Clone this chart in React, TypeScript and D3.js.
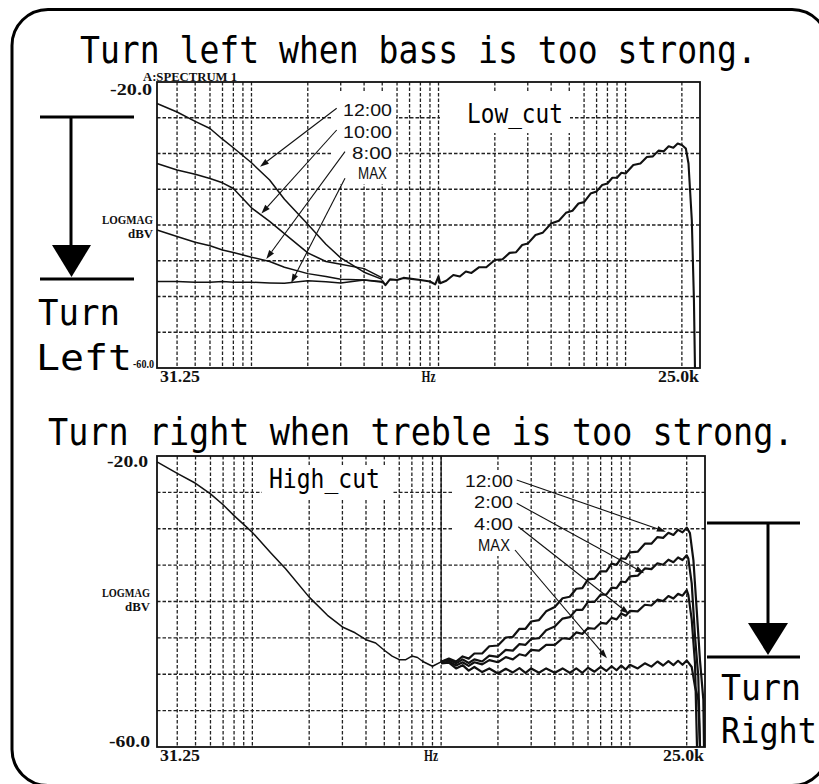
import React from 'react';
import * as d3 from 'd3';

const W = 819;
const H = 784;

// ---------- grid ----------
const gridFreqs = [40, 50, 60, 70, 80, 90, 100, 200, 300, 400, 500, 600, 700, 800, 900, 1000, 2000, 3000, 4000, 5000, 6000, 7000, 8000, 9000, 10000, 20000];
const gridDb = [-25, -30, -35, -40, -45, -50, -55];
const freqMin = 31.25;
const freqMax = 25000;
const dbMin = -60;
const dbMax = -20;

// ---------- top chart (Low_cut) ----------
const lowFreqs = [31.25, 40, 50, 60, 70, 80, 100, 125, 150, 200, 250, 300, 400, 500];
const low1200 = [-23.0, -24.2, -25.5, -26.5, -28.0, -29.2, -31.3, -33.7, -36.4, -39.9, -42.7, -44.6, -46.6, -47.6];
const low1000 = [-31.4, -32.3, -32.9, -33.5, -34.1, -34.9, -37.6, -39.5, -41.2, -43.9, -45.1, -45.5, -46.1, -47.4];
const low0800 = [-40.7, -41.6, -42.4, -42.9, -43.5, -43.85, -44.5, -45.1, -45.9, -46.8, -47.2, -47.6, -47.7, -47.9];
const lowMAX = [-47.9, -47.9, -48.0, -48.0, -47.9, -48.0, -48.0, -48.1, -48.15, -47.8, -47.95, -48.1, -47.7, -48.0];

const topCommonFreqs = [500, 520, 550, 600, 650, 700, 800, 900, 960, 1000, 1020, 1100, 1200, 1300, 1400, 1500, 1650, 1800, 2000, 2200, 2400, 2600, 2800, 3000, 3300, 3600, 4000, 4400, 4800, 5200, 5600, 6000, 6500, 7000, 7500, 8000, 8500, 9000, 9500, 10000, 11000, 12000, 13000, 14000, 15000, 16000, 17000, 18000, 19000, 20000, 21000, 21700, 22600, 23200, 23500];
const topCommonDb = [-47.8, -48.4, -47.6, -47.7, -47.4, -47.5, -47.7, -47.9, -48.3, -47.2, -48.15, -47.8, -47.0, -47.2, -46.5, -46.7, -45.9, -45.9, -44.9, -44.8, -43.9, -43.8, -42.8, -42.6, -41.4, -41.1, -39.8, -39.4, -38.3, -38.0, -37.0, -36.8, -35.6, -35.3, -34.4, -34.2, -33.4, -33.4, -32.7, -32.8, -31.6, -31.4, -30.5, -30.4, -29.6, -29.7, -29.0, -29.2, -28.6, -28.8, -29.3, -31.4, -39.3, -50.5, -60];

const topLabels = ['12:00', '10:00', '8:00', 'MAX'];
const topTipFreq = [111, 113, 120, 163];
const topTipDb = [-31.85, -38.4, -44.75, -48.1];

// ---------- bottom chart (High_cut) ----------
const hcFreqs = [31.25, 40, 50, 60, 70, 80, 100, 125, 150, 200, 250, 300, 350, 400, 450, 500, 550, 600, 650, 700, 750, 800, 900, 1000];
const hcDb = [-20.8, -22.4, -23.75, -25.2, -26.7, -28.2, -30.5, -33.3, -35.5, -39.4, -41.9, -43.5, -44.3, -45.25, -45.7, -46.7, -47.5, -48.0, -48.0, -47.5, -47.7, -48.25, -48.9, -48.3];

const bodyFreqs = [1000, 1100, 1200, 1300, 1400, 1500, 1650, 1800, 2000, 2200, 2400, 2600, 2800, 3000, 3300, 3600, 4000, 4400, 4800, 5200, 5600, 6000, 6500, 7000, 7500, 8000, 8500, 9000, 9500, 10000, 11000, 12000, 13000, 14000, 15000, 16000, 17000, 18000, 19000, 20000];
const hi1200 = [-48.3, -47.85, -48.25, -47.55, -47.85, -47.15, -47.15, -46.15, -46.05, -44.95, -44.85, -43.75, -43.75, -42.75, -42.55, -41.35, -40.75, -39.55, -39.35, -38.25, -38.15, -36.95, -36.85, -35.85, -35.85, -34.8, -34.95, -34.05, -34.15, -33.25, -33.15, -32.05, -32.05, -31.15, -31.25, -30.55, -30.85, -30.15, -30.5, -29.85];
const hi0200 = [-48.25, -48.0, -48.5, -47.95, -48.45, -47.95, -48.25, -47.45, -47.6, -46.65, -46.75, -45.85, -45.95, -45.15, -45.05, -43.95, -43.45, -42.35, -42.15, -41.15, -41.15, -40.05, -40.05, -39.05, -39.05, -38.1, -38.15, -37.25, -37.35, -36.55, -36.45, -35.45, -35.55, -34.75, -34.95, -34.25, -34.6, -33.95, -34.3, -33.65];
const hi0400 = [-48.45, -48.25, -48.8, -48.35, -48.85, -48.35, -48.65, -48.05, -48.35, -47.65, -47.95, -47.25, -47.45, -46.65, -46.75, -45.95, -45.95, -45.05, -45.15, -44.25, -44.45, -43.65, -43.75, -42.95, -43.05, -42.25, -42.45, -41.65, -41.95, -41.3, -41.35, -40.45, -40.55, -39.75, -39.95, -39.25, -39.6, -38.95, -39.2, -38.45];
const hiMAX = [-48.5, -48.4, -49.2, -48.75, -49.5, -49.0, -49.7, -49.2, -49.9, -49.25, -49.75, -49.15, -49.8, -49.2, -49.8, -49.2, -49.8, -49.2, -49.8, -49.2, -49.8, -49.1, -49.65, -49.0, -49.55, -48.9, -49.45, -48.8, -49.35, -48.7, -49.2, -48.5, -48.95, -48.25, -48.8, -48.2, -48.75, -48.15, -48.7, -48.1];

const tail1200Freqs = [20800, 21700, 22600, 23500, 24500, 24700];
const tail1200Db = [-30.6, -34.3, -41.2, -48.0, -53.5, -60];
const tail0200Freqs = [20400, 21260, 22130, 23030, 23520];
const tail0200Db = [-34.1, -37.5, -44.8, -50.3, -60];
const tail0400Freqs = [20400, 21260, 22130, 22680];
const tail0400Db = [-39.1, -42.5, -48.5, -60];
const tailMAXFreqs = [21260, 22130, 23030, 23520];
const tailMAXDb = [-49.0, -51.7, -53.5, -60];

const botLabels = ['12:00', '2:00', '4:00', 'MAX'];
const botTipFreq = [15500, 11900, 9900, 7560];
const botTipDb = [-30.4, -36.1, -41.7, -47.8];
const markerFreq = 1000;
const markerDb = -48.3;

type Pt = [number, number];
const zip = (f: number[], v: number[]): Pt[] => f.map((d, i) => [d, v[i]] as Pt);

function makeScales(x0: number, x1: number, y0: number, y1: number) {
  const x = d3.scaleLog().domain([freqMin, freqMax]).range([x0, x1]);
  const y = d3.scaleLinear().domain([dbMin, dbMax]).range([y1, y0]);
  return { x, y };
}

const MONO = '"DejaVu Sans Mono", monospace';
const SERIF = '"Liberation Serif", serif';
const SANS = '"Liberation Sans", Arial, sans-serif';

// monospace text squeezed horizontally to a target width (DejaVu Sans Mono advance = 0.602em)
function MonoText({ x, y, fs, width, children }: { x: number; y: number; fs: number; width: number; children: string }) {
  const natural = children.length * 0.602 * fs;
  const sx = width / natural;
  return (
    <text transform={`translate(${x},${y}) scale(${sx},1)`} fontFamily={MONO} fontSize={fs} fill="#000">
      {children}
    </text>
  );
}

function Grid({ x, y }: { x: any; y: any }) {
  const [x0, x1] = x.range();
  const [y1, y0] = y.range();
  return (
    <g stroke="#222" strokeWidth={1.3} strokeDasharray="3.5,2">
      {gridFreqs.map((f) => (
        <line key={'v' + f} x1={x(f)} x2={x(f)} y1={y0} y2={y1} />
      ))}
      {gridDb.map((d) => (
        <line key={'h' + d} x1={x0} x2={x1} y1={y(d)} y2={y(d)} />
      ))}
    </g>
  );
}

function Arrow({ sx, sy, tx, ty }: { sx: number; sy: number; tx: number; ty: number }) {
  const a = Math.atan2(ty - sy, tx - sx);
  const L = 9;
  const w = 3;
  const bx = tx - L * Math.cos(a);
  const by = ty - L * Math.sin(a);
  const p1 = [bx + w * Math.sin(a), by - w * Math.cos(a)];
  const p2 = [bx - w * Math.sin(a), by + w * Math.cos(a)];
  return (
    <g>
      <line x1={sx} y1={sy} x2={bx} y2={by} stroke="#111" strokeWidth={1.1} />
      <polygon points={`${tx},${ty} ${p1[0]},${p1[1]} ${p2[0]},${p2[1]}`} fill="#111" />
    </g>
  );
}

function TickLabels({ x, y, top }: { x: any; y: any; top: boolean }) {
  const [x0, x1] = x.range();
  const [y1, y0] = y.range();
  const fs = 16;
  const st = { fontFamily: SERIF, fontWeight: 700 as const, fill: '#111' };
  const la = 'spacingAndGlyphs';
  return (
    <g style={st}>
      {top ? (
        <>
          <text x={143} y={y0 - 1} fontSize={12} textLength={94} lengthAdjust={la}>A:SPECTRUM 1</text>
          <text x={x0 - 47} y={y0 + 13} fontSize={fs} textLength={42} lengthAdjust={la}>-20.0</text>
          <text x={x0 - 55} y={224} fontSize={12.2} textLength={51} lengthAdjust={la}>LOGMAG</text>
          <text x={x0 - 29} y={237.8} fontSize={12.2} textLength={25} lengthAdjust={la}>dBV</text>
          <text x={x0 - 24} y={y1} fontSize={12} textLength={21} lengthAdjust={la}>-60.0</text>
        </>
      ) : (
        <>
          <text x={x0 - 50} y={y0 + 11} fontSize={fs} textLength={41} lengthAdjust={la}>-20.0</text>
          <text x={x0 - 55} y={597} fontSize={12.2} textLength={48} lengthAdjust={la}>LOGMAG</text>
          <text x={x0 - 32} y={610.8} fontSize={12.2} textLength={25} lengthAdjust={la}>dBV</text>
          <text x={x0 - 48} y={y1} fontSize={fs} textLength={41} lengthAdjust={la}>-60.0</text>
        </>
      )}
      <text x={x0 + 3} y={y1 + 14} fontSize={fs} textLength={40} lengthAdjust={la}>31.25</text>
      <text x={(x0 + x1) / 2 - 7} y={y1 + 14} fontSize={fs} textLength={14} lengthAdjust={la}>Hz</text>
      <text x={x1 - 42} y={y1 + 14} fontSize={fs} textLength={41} lengthAdjust={la}>25.0k</text>
    </g>
  );
}

export default function App() {
  const T = makeScales(157, 700, 82, 368);
  const B = makeScales(157, 705, 456, 747);

  const lineT = d3.line<Pt>().x((d) => T.x(d[0])).y((d) => T.y(d[1]));
  const lineB = d3.line<Pt>().x((d) => B.x(d[0])).y((d) => B.y(d[1]));

  const topLow = [low1200, low1000, low0800, lowMAX].map((v) => zip(lowFreqs, v));
  const topCommon = zip(topCommonFreqs, topCommonDb);

  const hc = zip(hcFreqs, hcDb);
  const bot = [
    zip(bodyFreqs, hi1200).concat(zip(tail1200Freqs, tail1200Db)),
    zip(bodyFreqs, hi0200).concat(zip(tail0200Freqs, tail0200Db)),
    zip(bodyFreqs, hi0400).concat(zip(tail0400Freqs, tail0400Db)),
    zip(bodyFreqs, hiMAX).concat(zip(tailMAXFreqs, tailMAXDb)),
  ];

  const topStarts: Pt[] = [[336.7, 108.3], [336.7, 130], [345, 151.7], [345, 178.3]];
  const topLabelPos = [{ x: 343, y: 115.7, w: 49 }, { x: 343, y: 137.7, w: 49 }, { x: 352, y: 159, w: 40 }, { x: 358, y: 179, w: 29 }];
  const botStarts: Pt[] = [[516.7, 480], [516.7, 503.3], [518.3, 526.7], [515, 550]];
  const botLabelPos = [{ x: 465, y: 486.7, w: 48 }, { x: 474, y: 508.3, w: 39 }, { x: 474, y: 530, w: 39 }, { x: 478, y: 551, w: 32 }];

  return (
    <svg width={W} height={H} viewBox={`0 0 ${W} ${H}`} style={{ position: 'absolute', left: 0, top: 0, background: '#fff' }}>
      <rect x={0} y={0} width={W} height={H} fill="#fff" />
      {/* outer rounded frame */}
      <rect x={12} y={9.5} width={816} height={776} rx={36} ry={36} fill="none" stroke="#000" strokeWidth={3} />

      {/* titles */}
      <MonoText x={80} y={63} fs={38} width={677}>Turn left when bass is too strong.</MonoText>
      <MonoText x={48} y={445} fs={37} width={746}>Turn right when treble is too strong.</MonoText>

      {/* ---------------- top chart ---------------- */}
      <Grid x={T.x} y={T.y} />
      <rect x={333} y={93} width={63} height={91} fill="#fff" />
      <rect x={440} y={93} width={130} height={40} fill="#fff" />
      <MonoText x={467} y={123} fs={26} width={96}>Low_cut</MonoText>
      {topLow.map((d, i) => (
        <path key={'tl' + i} d={lineT(d) || ''} fill="none" stroke="#111" strokeWidth={1.5} strokeLinejoin="round" />
      ))}
      <path d={lineT(topCommon) || ''} fill="none" stroke="#111" strokeWidth={2.1} strokeLinejoin="round" />
      {topLabels.map((l, i) => (
        <g key={'ta' + i}>
          <Arrow sx={topStarts[i][0]} sy={topStarts[i][1]} tx={T.x(topTipFreq[i])} ty={T.y(topTipDb[i])} />
          <text x={topLabelPos[i].x} y={topLabelPos[i].y} fontFamily={SANS} fontSize={17} textLength={topLabelPos[i].w} lengthAdjust="spacingAndGlyphs" fill="#111">{l}</text>
        </g>
      ))}
      <rect x={157} y={82} width={543} height={286} fill="none" stroke="#111" strokeWidth={1.8} />
      <TickLabels x={T.x} y={T.y} top={true} />

      {/* ---------------- bottom chart ---------------- */}
      <Grid x={B.x} y={B.y} />
      <rect x={262} y={467} width={130} height={31} fill="#fff" />
      <rect x={452} y={470} width={68} height={86} fill="#fff" />
      <MonoText x={269} y={488} fs={26} width={111}>High_cut</MonoText>
      <line x1={B.x(markerFreq)} x2={B.x(markerFreq)} y1={B.y(dbMax)} y2={B.y(markerDb)} stroke="#111" strokeWidth={1.3} />
      <path d={lineB(hc) || ''} fill="none" stroke="#111" strokeWidth={1.5} strokeLinejoin="round" />
      {bot.map((d, i) => (
        <path key={'bl' + i} d={lineB(d) || ''} fill="none" stroke="#111" strokeWidth={2.2} strokeLinejoin="round" />
      ))}
      {botLabels.map((l, i) => (
        <g key={'ba' + i}>
          <Arrow sx={botStarts[i][0]} sy={botStarts[i][1]} tx={B.x(botTipFreq[i])} ty={B.y(botTipDb[i])} />
          <text x={botLabelPos[i].x} y={botLabelPos[i].y} fontFamily={SANS} fontSize={17} textLength={botLabelPos[i].w} lengthAdjust="spacingAndGlyphs" fill="#111">{l}</text>
        </g>
      ))}
      <rect x={157} y={456} width={548} height={291} fill="none" stroke="#111" strokeWidth={1.8} />
      <TickLabels x={B.x} y={B.y} top={false} />

      {/* ---------------- left annotation ---------------- */}
      <g stroke="#000" strokeWidth={3}>
        <line x1={40} x2={134} y1={117} y2={117} />
        <line x1={71} x2={71} y1={117} y2={246} />
        <line x1={40} x2={134} y1={279} y2={279} />
      </g>
      <polygon points="52,245 91,245 71.5,277" fill="#000" />
      <MonoText x={38} y={325} fs={36} width={82}>Turn</MonoText>
      <MonoText x={36} y={370} fs={36} width={96}>Left</MonoText>

      {/* ---------------- right annotation ---------------- */}
      <g stroke="#000" strokeWidth={3}>
        <line x1={707} x2={800} y1={523} y2={523} />
        <line x1={768} x2={768} y1={523} y2={624} />
        <line x1={707} x2={800} y1={657} y2={657} />
      </g>
      <polygon points="748,623 788,623 768,655" fill="#000" />
      <MonoText x={721} y={700} fs={36} width={80}>Turn</MonoText>
      <MonoText x={721} y={743} fs={36} width={96}>Right</MonoText>
    </svg>
  );
}
